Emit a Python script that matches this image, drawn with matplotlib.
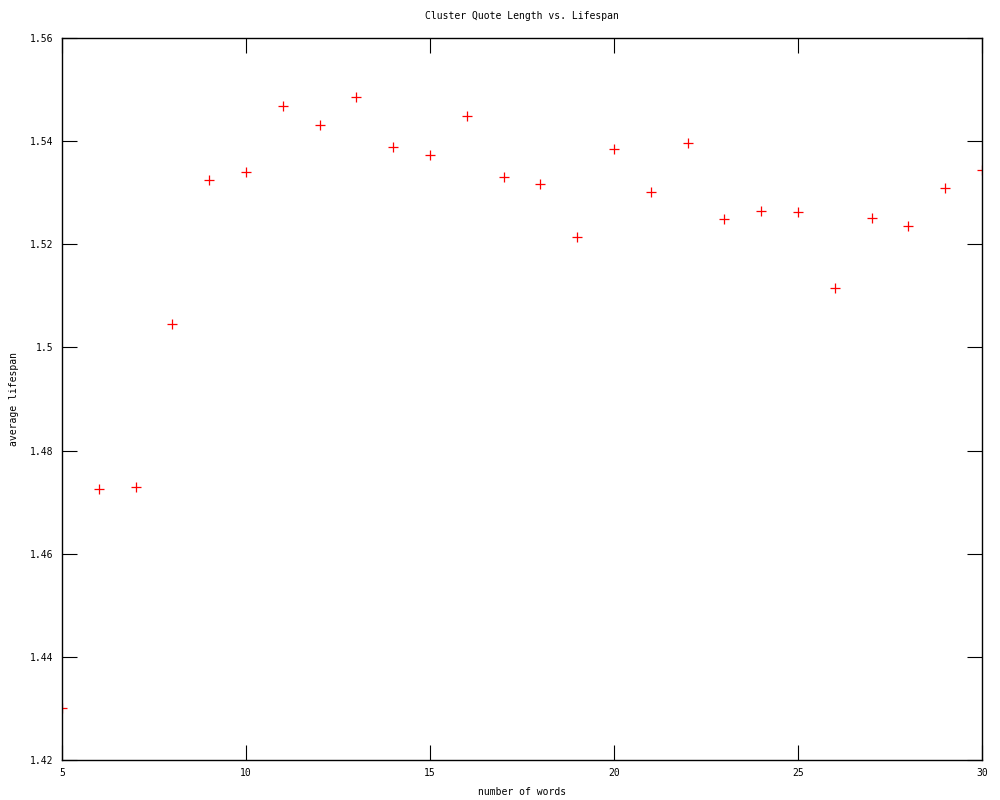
import matplotlib
matplotlib.use("Agg")
import matplotlib.pyplot as plt
import matplotlib.ticker as mticker

# ── Data ──────────────────────────────────────────────────────────────────────
words = [5, 6, 7, 8, 9, 10, 11, 12, 13, 14, 15, 16, 17,
         18, 19, 20, 21, 22, 23, 24, 25, 26, 27, 28, 29, 30]
lifespan = [1.4301, 1.4726, 1.4729, 1.5045, 1.5325, 1.5340, 1.5468, 1.5431,
            1.5486, 1.5389, 1.5373, 1.5449, 1.5330, 1.5317, 1.5214, 1.5385,
            1.5301, 1.5396, 1.5249, 1.5265, 1.5263, 1.5115, 1.5251, 1.5235,
            1.5309, 1.5344]

x_ticks = [5, 10, 15, 20, 25, 30]
y_ticks = [1.42, 1.44, 1.46, 1.48, 1.50, 1.52, 1.54, 1.56]

plt.rcParams.update({
    "font.family": "DejaVu Sans Mono",
    "font.size": 7,
})

fig = plt.figure(figsize=(10, 8), dpi=100)
ax = fig.add_axes([0.062, 0.05, 0.92, 0.9025])

ax.plot(words, lifespan, linestyle="none", marker="+", color="#ff0000",
        markersize=6.5, markeredgewidth=0.9, clip_on=True)

ax.set_xlim(5, 30)
ax.set_ylim(1.42, 1.56)
ax.set_xticks(x_ticks)
ax.set_yticks(y_ticks)
ax.yaxis.set_major_formatter(mticker.FormatStrFormatter("%g"))

for sp in ax.spines.values():
    sp.set_linewidth(1.0)
    sp.set_color("black")
ax.tick_params(direction="in", length=11, width=0.8, top=True, right=True,
               pad=6, labelsize=7)

ax.set_title("Cluster Quote Length vs. Lifespan", fontsize=7, pad=14)
ax.set_xlabel("number of words", fontsize=7, labelpad=6)
ax.set_ylabel("average lifespan", fontsize=7, labelpad=8)

fig.savefig("out.png", dpi=100)
plt.close(fig)
